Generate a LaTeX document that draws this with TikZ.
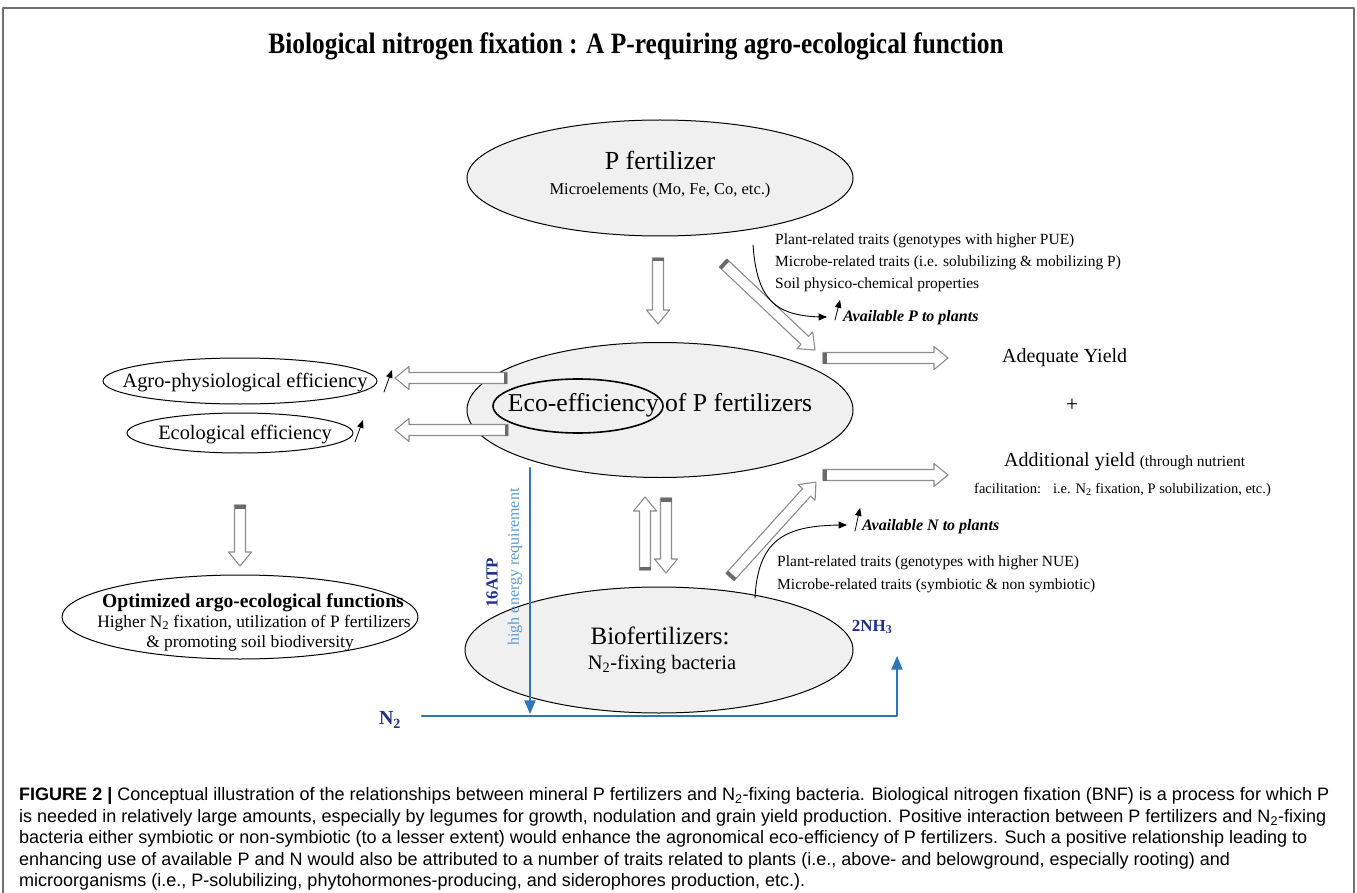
\documentclass[tikz,border=0pt]{standalone}
\usepackage{fontspec}
\setmainfont{Liberation Serif}
\newfontfamily\capfont{Liberation Sans}
\usetikzlibrary{arrows}
\usetikzlibrary{calc,shapes.geometric}

\definecolor{ellgray}{HTML}{F0F0F0}
\definecolor{arrgray}{HTML}{8C8C8C}
\definecolor{capgray}{HTML}{6A6A6A}
\definecolor{nblue}{HTML}{2E75B6}
\definecolor{lblue}{HTML}{5B9BD5}
\definecolor{dblue}{HTML}{1F2F8F}
\definecolor{framegray}{HTML}{707070}

\newcommand{\fsz}[2]{\fontsize{#1}{#2}\selectfont}
% font size that makes #3 (set at size #1) exactly #2 wide
\newsavebox{\fitbox}
\newcommand{\fitsize}[3]{%
  \sbox{\fitbox}{\fontsize{#1}{#1}\selectfont #3}%
  \pgfmathsetmacro{\fitsz}{#2/\the\wd\fitbox*#1}}
% hollow block arrow from #1 to #2, dark band at the tail
\newcommand{\hollowarrow}[2]{%
  \path let \p1=($(#2)-(#1)$) in \pgfextra{%
    \pgfmathparse{veclen(\x1,\y1)}\xdef\harlen{\pgfmathresult}%
    \pgfmathparse{atan2(\y1,\x1)}\xdef\harang{\pgfmathresult}};
  \begin{scope}[shift={(#1)},rotate=\harang]
    \draw[harrow] (0,-5.5) -- ({\harlen-14},-5.5) -- ({\harlen-14},-11.5) -- (\harlen,0)
      -- ({\harlen-14},11.5) -- ({\harlen-14},5.5) -- (0,5.5) -- cycle;
    \fill[hcap] (0,-5.5) rectangle (3.5,5.5);
  \end{scope}}

\newcommand{\titletext}{Biological nitrogen fixation : A P-requiring agro-ecological function}
\newcommand{\capone}{\textbf{FIGURE 2 |} Conceptual illustration of the relationships between mineral P fertilizers and N\textsubscript{2}-fixing bacteria. Biological nitrogen fixation (BNF) is a process for which P}
\newcommand{\captwo}{is needed in relatively large amounts, especially by legumes for growth, nodulation and grain yield production. Positive interaction between P fertilizers and N\textsubscript{2}-fixing}
\newcommand{\capthree}{bacteria either symbiotic or non-symbiotic (to a lesser extent) would enhance the agronomical eco-efficiency of P fertilizers. Such a positive relationship leading to}
\newcommand{\capfour}{enhancing use of available P and N would also be attributed to a number of traits related to plants (i.e., above- and belowground, especially rooting) and}
\newcommand{\capfive}{microorganisms (i.e., P-solubilizing, phytohormones-producing, and siderophores production, etc.).}

\begin{document}
\fitsize{26}{855}{\bfseries\titletext}\let\titlesz\fitsz
\fitsize{17}{1310}{\capfont\capone}\let\capsz\fitsz
\begin{tikzpicture}[x=1pt,y=-1pt,line cap=round,line join=round,>=triangle 45,
  ell/.style={ellipse,draw=black,fill=ellgray,line width=1pt,inner sep=0pt},
  ring/.style={ellipse,draw=black,line width=1.6pt,inner sep=0pt},
  effnode/.style={ellipse,draw=black,line width=1pt,inner sep=0pt},
  harrow/.style={draw=arrgray,fill=white,line width=1.1pt},
  hcap/.style={fill=capgray},
  blueline/.style={draw=nblue,line width=2.2pt},
  curvearr/.style={->,line width=0.9pt},
  txt/.style={inner sep=0pt}]
\useasboundingbox (0,0) rectangle (1357,893);
\draw[framegray,line width=2pt] (3,900) -- (3,8) -- (1354,8) -- (1354,900);

% title
\node[txt] (title) at (636,46) {\fsz{\titlesz pt}{30pt}\bfseries\scalebox{0.86}[1]{\titletext}};

% main ellipses
\node[ell,minimum width=386,minimum height=116] (pfert) at (660,178) {};
\node[txt] (pfert title) at (660,160) {\fsz{26}{30}P fertilizer};
\node[txt] (pfert sub) at (660,191) {\fsz{16.5}{20}Microelements (Mo, Fe, Co, etc.)};

\node[ell,minimum width=386,minimum height=135] (eco) at (660,410) {};
\node[ring,minimum width=170,minimum height=54] (eco ring) at (578,406) {};
\node[txt] (eco title) at (660,405) {\fsz{25.7}{30}Eco-efficiency of P fertilizers};

\node[ell,minimum width=388,minimum height=126] (bio) at (659,650) {};
\node[txt] (bio title) at (660,636) {\fsz{25}{30}Biofertilizers:};
\node[txt] (bio sub) at (662,664) {\fsz{20.5}{24}N\textsubscript{2}-fixing bacteria};

% left side
\node[effnode,minimum width=274,minimum height=46] (agro) at (240,381) {};
\node[txt] (agro text) at (245,383) {\fsz{20.4}{24}Agro-physiological efficiency};
\node[effnode,minimum width=226,minimum height=40] (ecol) at (240,433) {};
\node[txt] (ecol text) at (245,435) {\fsz{20.4}{24}Ecological efficiency};

\node[effnode,minimum width=356,minimum height=84] (opt) at (240,617) {};
\node[txt] (opt l1) at (253,603) {\fsz{19.6}{24}\bfseries Optimized argo-ecological functions};
\node[txt] (opt l2) at (254,623) {\fsz{17.4}{20}Higher N\textsubscript{2} fixation, utilization of P fertilizers};
\node[txt] (opt l3) at (250,643) {\fsz{17.4}{20}\& promoting soil biodiversity};

% block arrows
\coordinate (pdown tail) at (658,258);  \coordinate (pdown tip) at (658,324);
\coordinate (agro tail) at (507,378);   \coordinate (agro tip) at (395,378);
\coordinate (ecol tail) at (508,430);   \coordinate (ecol tip) at (395,430);
\coordinate (opt tail) at (240,505);    \coordinate (opt tip) at (240,566);
\coordinate (up tail) at (645,570);     \coordinate (up tip) at (645,497);
\coordinate (dn tail) at (666,498);     \coordinate (dn tip) at (666,573);
\coordinate (pdiag tail) at (723,263);  \coordinate (pdiag tip) at (815,350);
\coordinate (ndiag tail) at (730,577);  \coordinate (ndiag tip) at (816,482);
\coordinate (adeq tail) at (823,358);   \coordinate (adeq tip) at (948,358);
\coordinate (add tail) at (823,475);    \coordinate (add tip) at (948,475);
\hollowarrow{pdown tail}{pdown tip}
\hollowarrow{agro tail}{agro tip}
\hollowarrow{ecol tail}{ecol tip}
\hollowarrow{opt tail}{opt tip}
\hollowarrow{up tail}{up tip}
\hollowarrow{dn tail}{dn tip}
\hollowarrow{pdiag tail}{pdiag tip}
\hollowarrow{ndiag tail}{ndiag tip}
\hollowarrow{adeq tail}{adeq tip}
\hollowarrow{add tail}{add tip}

% yields
\node[txt,anchor=west] (adeq text) at (1002,358) {\fsz{20}{24}Adequate Yield};
\node[txt] (plus) at (1072,405) {\fsz{22}{24}+};
\node[txt,anchor=west] (add text) at (1004,462) {\fsz{20}{24}Additional yield {\fsz{15.5}{16}(through nutrient}};
\node[txt,anchor=west] (add sub) at (974,490) {\fsz{14.5}{16}facilitation:\hspace{12pt}i.e. N\textsubscript{2} fixation, P solubilization, etc.)};

% traits
\node[txt,anchor=north west,align=left,font=\fsz{15.5}{22}] (ptraits) at (775,234) {Plant-related traits (genotypes with higher PUE)\\Microbe-related traits (i.e. solubilizing \& mobilizing P)\\Soil physico-chemical properties};
\node[txt,anchor=west] (availp) at (843,318) {\fsz{16}{20}\bfseries\itshape Available P to plants};
\coordinate (pcurve start) at (753,245);
\coordinate (pcurve end) at (827,317);
\draw[curvearr] (pcurve start) .. controls (757,300) and (775,317) .. (pcurve end);

\node[txt,anchor=north west,align=left,font=\fsz{15.5}{23}] (ntraits) at (777,556) {Plant-related traits (genotypes with higher NUE)\\Microbe-related traits (symbiotic \& non symbiotic)};
\node[txt,anchor=west] (availn) at (862,527) {\fsz{16}{20}\bfseries\itshape Available N to plants};
\coordinate (ncurve start) at (755,598);
\coordinate (ncurve end) at (847,525);
\draw[curvearr] (ncurve start) .. controls (758,535) and (790,525) .. (ncurve end);

% small increase marks
\coordinate (agro up a) at (384,392);  \coordinate (agro up b) at (392,370);
\coordinate (ecol up a) at (355,442);  \coordinate (ecol up b) at (363,420);
\coordinate (availp up a) at (835,320); \coordinate (availp up b) at (840,300);
\coordinate (availn up a) at (855,531); \coordinate (availn up b) at (860,508);
\draw[curvearr,line width=0.8pt] (agro up a) -- (agro up b);
\draw[curvearr,line width=0.8pt] (ecol up a) -- (ecol up b);
\draw[curvearr,line width=0.8pt] (availp up a) -- (availp up b);
\draw[curvearr,line width=0.8pt] (availn up a) -- (availn up b);

% N2 -> 2NH3
\coordinate (atp start) at (530,468);
\coordinate (atp end) at (530,714);
\draw[blueline,->] (atp start) -- (atp end);
\node[txt,rotate=90,text=dblue] (atp) at (492,583) {\fsz{17}{20}\bfseries 16ATP};
\node[txt,rotate=90,text=lblue] (energy) at (515,567) {\fsz{16}{20}high energy requirement};
\node[txt,text=dblue] (ntwo) at (390,720) {\fsz{20}{24}\bfseries N\textsubscript{2}};
\node[txt,text=dblue] (nhthree) at (872,627) {\fsz{17}{20}\bfseries 2NH\textsubscript{3}};
\coordinate (n2 start) at (422,716);
\coordinate (nh3 corner) at (897,716);
\coordinate (nh3 tip) at (897,656);
\draw[blueline,->] (n2 start) -- (nh3 corner) -- (nh3 tip);

% caption
\node[txt,anchor=west] (cap1) at (19,796) {\capfont\fsz{\capsz pt}{20pt}\capone};
\node[txt,anchor=west] (cap2) at (19,817.5) {\capfont\fsz{\capsz pt}{20pt}\captwo};
\node[txt,anchor=west] (cap3) at (19,839) {\capfont\fsz{\capsz pt}{20pt}\capthree};
\node[txt,anchor=west] (cap4) at (19,860.5) {\capfont\fsz{\capsz pt}{20pt}\capfour};
\node[txt,anchor=west] (cap5) at (19,882) {\capfont\fsz{\capsz pt}{20pt}\capfive};
\end{tikzpicture}
\end{document}
